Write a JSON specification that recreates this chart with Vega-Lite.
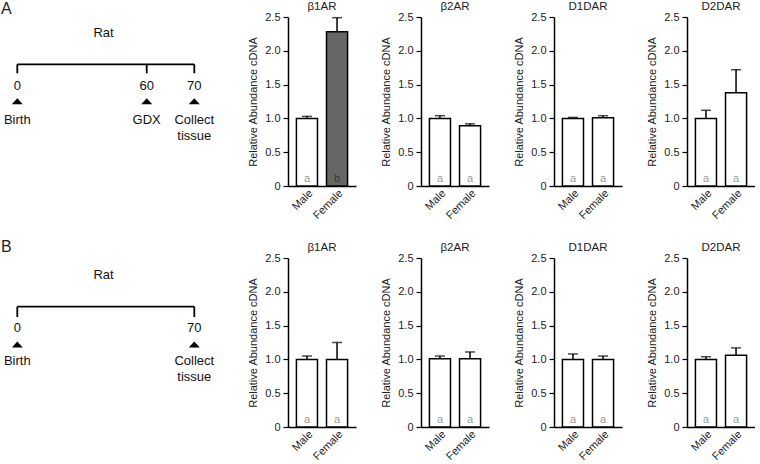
{
  "$schema": "https://vega.github.io/schema/vega-lite/v6.json",
  "padding": {"left": 0, "top": 0, "right": 0, "bottom": 10},
  "background": "white",
  "config": {
    "font": "Liberation Sans",
    "view": {"stroke": null},
    "title": {"fontSize": 11.5, "fontWeight": "normal", "color": "#222", "offset": -1, "anchor": "middle", "baseline": "alphabetic"},
    "axis": {"domainColor": "black", "domainWidth": 1.5, "tickColor": "black", "tickWidth": 1.2, "labelColor": "#222", "labelFontSize": 11, "titleColor": "#222", "titleFontSize": 11, "titleFontWeight": "normal", "grid": false},
    "axisY": {"tickCount": 5, "tickSize": 5, "labelPadding": 3, "titlePadding": 6, "labelExpr": "datum.value == 0 ? '0' : format(datum.value, '.1f')"},
    "axisX": {"ticks": false, "labelAngle": -45, "labelPadding": 1}
  },
  "datasets": {
    "bars": [
      {"group": "A", "gene": "β1AR", "sex": "Male", "mean": 1.0, "upper": 1.03, "letter": "a"},
      {"group": "A", "gene": "β1AR", "sex": "Female", "mean": 2.28, "upper": 2.49, "letter": "b"},
      {"group": "A", "gene": "β2AR", "sex": "Male", "mean": 1.0, "upper": 1.04, "letter": "a"},
      {"group": "A", "gene": "β2AR", "sex": "Female", "mean": 0.89, "upper": 0.92, "letter": "a"},
      {"group": "A", "gene": "D1DAR", "sex": "Male", "mean": 1.0, "upper": 1.015, "letter": "a"},
      {"group": "A", "gene": "D1DAR", "sex": "Female", "mean": 1.01, "upper": 1.04, "letter": "a"},
      {"group": "A", "gene": "D2DAR", "sex": "Male", "mean": 1.0, "upper": 1.12, "letter": "a"},
      {"group": "A", "gene": "D2DAR", "sex": "Female", "mean": 1.38, "upper": 1.72, "letter": "a"},
      {"group": "B", "gene": "β1AR", "sex": "Male", "mean": 1.0, "upper": 1.05, "letter": "a"},
      {"group": "B", "gene": "β1AR", "sex": "Female", "mean": 1.0, "upper": 1.25, "letter": "a"},
      {"group": "B", "gene": "β2AR", "sex": "Male", "mean": 1.01, "upper": 1.05, "letter": "a"},
      {"group": "B", "gene": "β2AR", "sex": "Female", "mean": 1.01, "upper": 1.11, "letter": "a"},
      {"group": "B", "gene": "D1DAR", "sex": "Male", "mean": 1.0, "upper": 1.08, "letter": "a"},
      {"group": "B", "gene": "D1DAR", "sex": "Female", "mean": 1.0, "upper": 1.05, "letter": "a"},
      {"group": "B", "gene": "D2DAR", "sex": "Male", "mean": 1.0, "upper": 1.04, "letter": "a"},
      {"group": "B", "gene": "D2DAR", "sex": "Female", "mean": 1.06, "upper": 1.17, "letter": "a"}
    ],
    "timeline": [
      {"row": "A", "kind": "species", "label": "Rat", "lane": 1},
      {"row": "A", "kind": "rule", "day": 0, "day2": 70, "lane": 2, "lane2": 2},
      {"row": "A", "kind": "rule", "day": 0, "day2": 0, "lane": 2, "lane2": 3},
      {"row": "A", "kind": "rule", "day": 60, "day2": 60, "lane": 2, "lane2": 3},
      {"row": "A", "kind": "rule", "day": 70, "day2": 70, "lane": 2, "lane2": 3},
      {"row": "A", "kind": "text", "label": "0", "day": 0, "lane": 4},
      {"row": "A", "kind": "text", "label": "60", "day": 60, "lane": 4},
      {"row": "A", "kind": "text", "label": "70", "day": 70, "lane": 4},
      {"row": "A", "kind": "marker", "day": 0, "lane": 5},
      {"row": "A", "kind": "marker", "day": 60, "lane": 5},
      {"row": "A", "kind": "marker", "day": 70, "lane": 5},
      {"row": "A", "kind": "text", "label": "Birth", "day": 0, "lane": 6},
      {"row": "A", "kind": "text", "label": "GDX", "day": 60, "lane": 6},
      {"row": "A", "kind": "text", "label": "Collect", "day": 70, "lane": 6},
      {"row": "A", "kind": "text", "label": "tissue", "day": 70, "lane": 7},
      {"row": "B", "kind": "species", "label": "Rat", "lane": 1},
      {"row": "B", "kind": "rule", "day": 0, "day2": 70, "lane": 2, "lane2": 2},
      {"row": "B", "kind": "rule", "day": 0, "day2": 0, "lane": 2, "lane2": 3},
      {"row": "B", "kind": "rule", "day": 70, "day2": 70, "lane": 2, "lane2": 3},
      {"row": "B", "kind": "text", "label": "0", "day": 0, "lane": 4},
      {"row": "B", "kind": "text", "label": "70", "day": 70, "lane": 4},
      {"row": "B", "kind": "marker", "day": 0, "lane": 5},
      {"row": "B", "kind": "marker", "day": 70, "lane": 5},
      {"row": "B", "kind": "text", "label": "Birth", "day": 0, "lane": 6},
      {"row": "B", "kind": "text", "label": "Collect", "day": 70, "lane": 6},
      {"row": "B", "kind": "text", "label": "tissue", "day": 70, "lane": 7}
    ]
  },
  "columns": 5,
  "align": "each",
  "bounds": "flush",
  "spacing": {"row": 72, "column": 65},
  "concat": [
    {
      "width": 223, "height": 169,
      "title": {"text": "A", "anchor": "start", "frame": "group", "fontSize": 16, "offset": 0, "dx": 1},
      "data": {"name": "timeline"},
      "transform": [{"filter": "datum.row == 'A'"}],
      "layer": [
        {"transform": [{"filter": "datum.kind == 'rule'"}], "mark": {"type": "rule", "strokeWidth": 1.8, "color": "black"},
         "encoding": {
           "x": {"field": "day", "type": "quantitative", "scale": {"domain": [0, 60, 70], "range": [17.3, 146.7, 194.3], "nice": false, "zero": false}, "axis": null},
           "x2": {"field": "day2"},
           "y": {"field": "lane", "type": "quantitative", "scale": {"domain": [1, 2, 3, 4, 5, 6, 7], "range": [16, 47.3, 56.3, 68.5, 84.3, 102.5, 118.5], "nice": false, "zero": false}, "axis": null},
           "y2": {"field": "lane2"}}},
        {"transform": [{"filter": "datum.kind == 'marker'"}], "mark": {"type": "point", "shape": "M-1,0.55L1,0.55L0,-0.55Z", "size": 121, "filled": true, "color": "black", "opacity": 1},
         "encoding": {"x": {"field": "day", "type": "quantitative"}, "y": {"field": "lane", "type": "quantitative"}}},
        {"transform": [{"filter": "datum.kind == 'text'"}], "mark": {"type": "text", "fontSize": 13, "color": "#111", "baseline": "middle"},
         "encoding": {"x": {"field": "day", "type": "quantitative"}, "y": {"field": "lane", "type": "quantitative"}, "text": {"field": "label"}}},
        {"transform": [{"filter": "datum.kind == 'species'"}], "mark": {"type": "text", "fontSize": 13, "color": "#111", "baseline": "middle"},
         "encoding": {"x": {"datum": 40, "type": "quantitative"}, "y": {"field": "lane", "type": "quantitative"}, "text": {"field": "label"}}}
      ]
    },
    {
      "width": 68, "height": 169, "title": "β1AR",
      "data": {"name": "bars"},
      "transform": [{"filter": "datum.group == 'A' && datum.gene == 'β1AR'"}],
      "encoding": {"x": {"field": "sex", "type": "nominal", "sort": ["Male", "Female"], "title": null, "scale": {"paddingInner": 0.3, "paddingOuter": 0.28}}},
      "layer": [
        {"mark": {"type": "bar", "stroke": "black", "strokeWidth": 1.5},
         "encoding": {"y": {"field": "mean", "type": "quantitative", "title": "Relative Abundance cDNA", "scale": {"domain": [0, 2.5], "nice": false}},
                      "fill": {"field": "letter", "type": "nominal", "scale": {"domain": ["a", "b"], "range": ["white", "#666666"]}, "legend": null}}},
        {"mark": {"type": "rule", "strokeWidth": 1.5, "color": "black"},
         "encoding": {"y": {"field": "mean", "type": "quantitative", "title": "Relative Abundance cDNA"}, "y2": {"field": "upper"}}},
        {"mark": {"type": "tick", "thickness": 1.5, "size": 10, "color": "black"},
         "encoding": {"y": {"field": "upper", "type": "quantitative", "title": "Relative Abundance cDNA"}}},
        {"mark": {"type": "text", "dy": -7, "fontSize": 11, "baseline": "middle"},
         "encoding": {"y": {"datum": 0, "type": "quantitative", "title": "Relative Abundance cDNA"}, "text": {"field": "letter"},
                      "color": {"condition": {"test": "datum.letter == 'b'", "value": "#3a3a3a"}, "value": "#999999"}}}
      ]
    },
    {
      "width": 68, "height": 169, "title": "β2AR",
      "data": {"name": "bars"},
      "transform": [{"filter": "datum.group == 'A' && datum.gene == 'β2AR'"}],
      "encoding": {"x": {"field": "sex", "type": "nominal", "sort": ["Male", "Female"], "title": null, "scale": {"paddingInner": 0.3, "paddingOuter": 0.28}}},
      "layer": [
        {"mark": {"type": "bar", "stroke": "black", "strokeWidth": 1.5},
         "encoding": {"y": {"field": "mean", "type": "quantitative", "title": "Relative Abundance cDNA", "scale": {"domain": [0, 2.5], "nice": false}},
                      "fill": {"field": "letter", "type": "nominal", "scale": {"domain": ["a", "b"], "range": ["white", "#666666"]}, "legend": null}}},
        {"mark": {"type": "rule", "strokeWidth": 1.5, "color": "black"},
         "encoding": {"y": {"field": "mean", "type": "quantitative", "title": "Relative Abundance cDNA"}, "y2": {"field": "upper"}}},
        {"mark": {"type": "tick", "thickness": 1.5, "size": 10, "color": "black"},
         "encoding": {"y": {"field": "upper", "type": "quantitative", "title": "Relative Abundance cDNA"}}},
        {"mark": {"type": "text", "dy": -7, "fontSize": 11, "baseline": "middle"},
         "encoding": {"y": {"datum": 0, "type": "quantitative", "title": "Relative Abundance cDNA"}, "text": {"field": "letter"},
                      "color": {"condition": {"test": "datum.letter == 'b'", "value": "#3a3a3a"}, "value": "#999999"}}}
      ]
    },
    {
      "width": 68, "height": 169, "title": "D1DAR",
      "data": {"name": "bars"},
      "transform": [{"filter": "datum.group == 'A' && datum.gene == 'D1DAR'"}],
      "encoding": {"x": {"field": "sex", "type": "nominal", "sort": ["Male", "Female"], "title": null, "scale": {"paddingInner": 0.3, "paddingOuter": 0.28}}},
      "layer": [
        {"mark": {"type": "bar", "stroke": "black", "strokeWidth": 1.5},
         "encoding": {"y": {"field": "mean", "type": "quantitative", "title": "Relative Abundance cDNA", "scale": {"domain": [0, 2.5], "nice": false}},
                      "fill": {"field": "letter", "type": "nominal", "scale": {"domain": ["a", "b"], "range": ["white", "#666666"]}, "legend": null}}},
        {"mark": {"type": "rule", "strokeWidth": 1.5, "color": "black"},
         "encoding": {"y": {"field": "mean", "type": "quantitative", "title": "Relative Abundance cDNA"}, "y2": {"field": "upper"}}},
        {"mark": {"type": "tick", "thickness": 1.5, "size": 10, "color": "black"},
         "encoding": {"y": {"field": "upper", "type": "quantitative", "title": "Relative Abundance cDNA"}}},
        {"mark": {"type": "text", "dy": -7, "fontSize": 11, "baseline": "middle"},
         "encoding": {"y": {"datum": 0, "type": "quantitative", "title": "Relative Abundance cDNA"}, "text": {"field": "letter"},
                      "color": {"condition": {"test": "datum.letter == 'b'", "value": "#3a3a3a"}, "value": "#999999"}}}
      ]
    },
    {
      "width": 68, "height": 169, "title": "D2DAR",
      "data": {"name": "bars"},
      "transform": [{"filter": "datum.group == 'A' && datum.gene == 'D2DAR'"}],
      "encoding": {"x": {"field": "sex", "type": "nominal", "sort": ["Male", "Female"], "title": null, "scale": {"paddingInner": 0.3, "paddingOuter": 0.28}}},
      "layer": [
        {"mark": {"type": "bar", "stroke": "black", "strokeWidth": 1.5},
         "encoding": {"y": {"field": "mean", "type": "quantitative", "title": "Relative Abundance cDNA", "scale": {"domain": [0, 2.5], "nice": false}},
                      "fill": {"field": "letter", "type": "nominal", "scale": {"domain": ["a", "b"], "range": ["white", "#666666"]}, "legend": null}}},
        {"mark": {"type": "rule", "strokeWidth": 1.5, "color": "black"},
         "encoding": {"y": {"field": "mean", "type": "quantitative", "title": "Relative Abundance cDNA"}, "y2": {"field": "upper"}}},
        {"mark": {"type": "tick", "thickness": 1.5, "size": 10, "color": "black"},
         "encoding": {"y": {"field": "upper", "type": "quantitative", "title": "Relative Abundance cDNA"}}},
        {"mark": {"type": "text", "dy": -7, "fontSize": 11, "baseline": "middle"},
         "encoding": {"y": {"datum": 0, "type": "quantitative", "title": "Relative Abundance cDNA"}, "text": {"field": "letter"},
                      "color": {"condition": {"test": "datum.letter == 'b'", "value": "#3a3a3a"}, "value": "#999999"}}}
      ]
    },
    {
      "width": 223, "height": 169,
      "title": {"text": "B", "anchor": "start", "frame": "group", "fontSize": 16, "offset": 3, "dx": 1},
      "data": {"name": "timeline"},
      "transform": [{"filter": "datum.row == 'B'"}],
      "layer": [
        {"transform": [{"filter": "datum.kind == 'rule'"}], "mark": {"type": "rule", "strokeWidth": 1.8, "color": "black"},
         "encoding": {
           "x": {"field": "day", "type": "quantitative", "scale": {"domain": [0, 60, 70], "range": [17.3, 146.7, 194.3], "nice": false, "zero": false}, "axis": null},
           "x2": {"field": "day2"},
           "y": {"field": "lane", "type": "quantitative", "scale": {"domain": [1, 2, 3, 4, 5, 6, 7], "range": [17, 48.7, 59, 69.7, 86.5, 102.5, 119], "nice": false, "zero": false}, "axis": null},
           "y2": {"field": "lane2"}}},
        {"transform": [{"filter": "datum.kind == 'marker'"}], "mark": {"type": "point", "shape": "M-1,0.55L1,0.55L0,-0.55Z", "size": 121, "filled": true, "color": "black", "opacity": 1},
         "encoding": {"x": {"field": "day", "type": "quantitative"}, "y": {"field": "lane", "type": "quantitative"}}},
        {"transform": [{"filter": "datum.kind == 'text'"}], "mark": {"type": "text", "fontSize": 13, "color": "#111", "baseline": "middle"},
         "encoding": {"x": {"field": "day", "type": "quantitative"}, "y": {"field": "lane", "type": "quantitative"}, "text": {"field": "label"}}},
        {"transform": [{"filter": "datum.kind == 'species'"}], "mark": {"type": "text", "fontSize": 13, "color": "#111", "baseline": "middle"},
         "encoding": {"x": {"datum": 40, "type": "quantitative"}, "y": {"field": "lane", "type": "quantitative"}, "text": {"field": "label"}}}
      ]
    },
    {
      "width": 68, "height": 169, "title": "β1AR",
      "data": {"name": "bars"},
      "transform": [{"filter": "datum.group == 'B' && datum.gene == 'β1AR'"}],
      "encoding": {"x": {"field": "sex", "type": "nominal", "sort": ["Male", "Female"], "title": null, "scale": {"paddingInner": 0.3, "paddingOuter": 0.28}}},
      "layer": [
        {"mark": {"type": "bar", "stroke": "black", "strokeWidth": 1.5},
         "encoding": {"y": {"field": "mean", "type": "quantitative", "title": "Relative Abundance cDNA", "scale": {"domain": [0, 2.5], "nice": false}},
                      "fill": {"field": "letter", "type": "nominal", "scale": {"domain": ["a", "b"], "range": ["white", "#666666"]}, "legend": null}}},
        {"mark": {"type": "rule", "strokeWidth": 1.5, "color": "black"},
         "encoding": {"y": {"field": "mean", "type": "quantitative", "title": "Relative Abundance cDNA"}, "y2": {"field": "upper"}}},
        {"mark": {"type": "tick", "thickness": 1.5, "size": 10, "color": "black"},
         "encoding": {"y": {"field": "upper", "type": "quantitative", "title": "Relative Abundance cDNA"}}},
        {"mark": {"type": "text", "dy": -7, "fontSize": 11, "baseline": "middle"},
         "encoding": {"y": {"datum": 0, "type": "quantitative", "title": "Relative Abundance cDNA"}, "text": {"field": "letter"},
                      "color": {"condition": {"test": "datum.letter == 'b'", "value": "#3a3a3a"}, "value": "#999999"}}}
      ]
    },
    {
      "width": 68, "height": 169, "title": "β2AR",
      "data": {"name": "bars"},
      "transform": [{"filter": "datum.group == 'B' && datum.gene == 'β2AR'"}],
      "encoding": {"x": {"field": "sex", "type": "nominal", "sort": ["Male", "Female"], "title": null, "scale": {"paddingInner": 0.3, "paddingOuter": 0.28}}},
      "layer": [
        {"mark": {"type": "bar", "stroke": "black", "strokeWidth": 1.5},
         "encoding": {"y": {"field": "mean", "type": "quantitative", "title": "Relative Abundance cDNA", "scale": {"domain": [0, 2.5], "nice": false}},
                      "fill": {"field": "letter", "type": "nominal", "scale": {"domain": ["a", "b"], "range": ["white", "#666666"]}, "legend": null}}},
        {"mark": {"type": "rule", "strokeWidth": 1.5, "color": "black"},
         "encoding": {"y": {"field": "mean", "type": "quantitative", "title": "Relative Abundance cDNA"}, "y2": {"field": "upper"}}},
        {"mark": {"type": "tick", "thickness": 1.5, "size": 10, "color": "black"},
         "encoding": {"y": {"field": "upper", "type": "quantitative", "title": "Relative Abundance cDNA"}}},
        {"mark": {"type": "text", "dy": -7, "fontSize": 11, "baseline": "middle"},
         "encoding": {"y": {"datum": 0, "type": "quantitative", "title": "Relative Abundance cDNA"}, "text": {"field": "letter"},
                      "color": {"condition": {"test": "datum.letter == 'b'", "value": "#3a3a3a"}, "value": "#999999"}}}
      ]
    },
    {
      "width": 68, "height": 169, "title": "D1DAR",
      "data": {"name": "bars"},
      "transform": [{"filter": "datum.group == 'B' && datum.gene == 'D1DAR'"}],
      "encoding": {"x": {"field": "sex", "type": "nominal", "sort": ["Male", "Female"], "title": null, "scale": {"paddingInner": 0.3, "paddingOuter": 0.28}}},
      "layer": [
        {"mark": {"type": "bar", "stroke": "black", "strokeWidth": 1.5},
         "encoding": {"y": {"field": "mean", "type": "quantitative", "title": "Relative Abundance cDNA", "scale": {"domain": [0, 2.5], "nice": false}},
                      "fill": {"field": "letter", "type": "nominal", "scale": {"domain": ["a", "b"], "range": ["white", "#666666"]}, "legend": null}}},
        {"mark": {"type": "rule", "strokeWidth": 1.5, "color": "black"},
         "encoding": {"y": {"field": "mean", "type": "quantitative", "title": "Relative Abundance cDNA"}, "y2": {"field": "upper"}}},
        {"mark": {"type": "tick", "thickness": 1.5, "size": 10, "color": "black"},
         "encoding": {"y": {"field": "upper", "type": "quantitative", "title": "Relative Abundance cDNA"}}},
        {"mark": {"type": "text", "dy": -7, "fontSize": 11, "baseline": "middle"},
         "encoding": {"y": {"datum": 0, "type": "quantitative", "title": "Relative Abundance cDNA"}, "text": {"field": "letter"},
                      "color": {"condition": {"test": "datum.letter == 'b'", "value": "#3a3a3a"}, "value": "#999999"}}}
      ]
    },
    {
      "width": 68, "height": 169, "title": "D2DAR",
      "data": {"name": "bars"},
      "transform": [{"filter": "datum.group == 'B' && datum.gene == 'D2DAR'"}],
      "encoding": {"x": {"field": "sex", "type": "nominal", "sort": ["Male", "Female"], "title": null, "scale": {"paddingInner": 0.3, "paddingOuter": 0.28}}},
      "layer": [
        {"mark": {"type": "bar", "stroke": "black", "strokeWidth": 1.5},
         "encoding": {"y": {"field": "mean", "type": "quantitative", "title": "Relative Abundance cDNA", "scale": {"domain": [0, 2.5], "nice": false}},
                      "fill": {"field": "letter", "type": "nominal", "scale": {"domain": ["a", "b"], "range": ["white", "#666666"]}, "legend": null}}},
        {"mark": {"type": "rule", "strokeWidth": 1.5, "color": "black"},
         "encoding": {"y": {"field": "mean", "type": "quantitative", "title": "Relative Abundance cDNA"}, "y2": {"field": "upper"}}},
        {"mark": {"type": "tick", "thickness": 1.5, "size": 10, "color": "black"},
         "encoding": {"y": {"field": "upper", "type": "quantitative", "title": "Relative Abundance cDNA"}}},
        {"mark": {"type": "text", "dy": -7, "fontSize": 11, "baseline": "middle"},
         "encoding": {"y": {"datum": 0, "type": "quantitative", "title": "Relative Abundance cDNA"}, "text": {"field": "letter"},
                      "color": {"condition": {"test": "datum.letter == 'b'", "value": "#3a3a3a"}, "value": "#999999"}}}
      ]
    }
  ]
}
